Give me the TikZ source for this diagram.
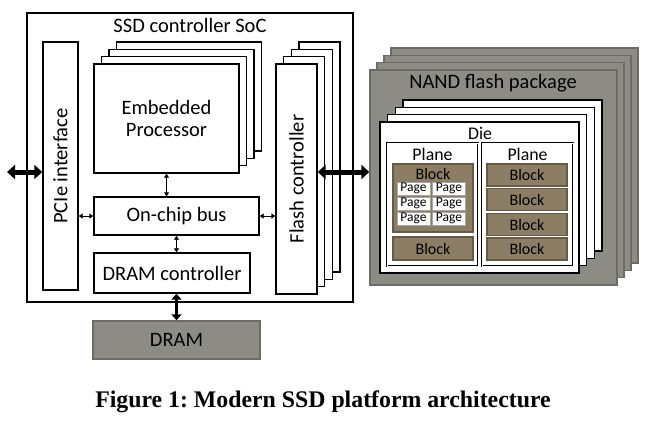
\documentclass[tikz,border=0pt]{standalone}
\usepackage{fontspec}
\setmainfont{Carlito}
\newfontfamily\captionfont{Liberation Serif}
\usetikzlibrary{arrows.meta}
\frenchspacing

\definecolor{pkggray}{RGB}{140,140,132}
\definecolor{pkgedge}{RGB}{108,108,102}
\definecolor{blockfill}{RGB}{140,126,100}
\definecolor{blockedge}{RGB}{100,90,70}
\definecolor{pageedge}{RGB}{165,165,165}

\tikzset{
  unit/.style={draw, line width=1.4pt, fill=white, inner sep=0pt},
  pkgbox/.style={draw=pkgedge, line width=1.4pt, fill=pkggray, inner sep=0pt},
  planebox/.style={draw, double, double distance=1pt, line width=0.9pt, fill=white, inner sep=0pt},
  blockbox/.style={draw=blockedge, line width=1.2pt, fill=blockfill, inner sep=0pt,
    font=\fontsize{16}{16}\selectfont, text=black},
  pagebox/.style={draw=pageedge, line width=0.8pt, fill=white, inner sep=0pt,
    minimum width=33pt, minimum height=13pt, font=\fontsize{13.5}{13.5}\selectfont},
  biglink/.style={line width=5pt, {Triangle[width=14pt,length=8pt]}-{Triangle[width=14pt,length=8pt]}},
  memlink/.style={line width=3pt, {Triangle[width=10pt,length=6pt]}-{Triangle[width=10pt,length=6pt]}},
  buslink/.style={line width=0.9pt, {Triangle[width=5pt,length=4pt]}-{Triangle[width=5pt,length=4pt]}}
}

\begin{document}
\begin{tikzpicture}[x=1pt, y=-1pt, font=\fontsize{20.5}{22}\selectfont]

  \useasboundingbox (0,0) rectangle (666,421);

  % SoC
  \node[unit, minimum width=326pt, minimum height=289pt] (soc) at (190,157.5) {};
  \node (soctitle) at (190,25) {SSD controller SoC};

  \node[unit, minimum width=35pt, minimum height=248pt] (pcie) at (60.5,166)
    {\rotatebox{90}{PCIe interface}};

  % Processoren (gestapelt)
  \foreach \k in {3,2,1}
    \draw[unit, shift={(\k*7.5,-\k*7.3)}] (94,64) rectangle (239,173);
  \node[unit, minimum width=145pt, minimum height=109pt, align=center] (proc) at (166.5,118.5)
    {Embedded\\Processor};

  \node[unit, minimum width=165pt, minimum height=38pt] (bus) at (176.5,216) {On-chip bus};
  \node[unit, minimum width=156pt, minimum height=40pt] (dramctl) at (172,273) {DRAM controller};

  % Flash-Controller (gestapelt)
  \foreach \k in {3,2,1}
    \draw[unit, shift={(\k*7.7,-\k*7.3)}] (276,64) rectangle (317,294);
  \node[unit, minimum width=41pt, minimum height=230pt] (flash) at (296.5,179)
    {\rotatebox{90}{Flash controller}};

  % DRAM
  \node[pkgbox, minimum width=167pt, minimum height=38pt] (dram) at (176.5,340) {DRAM};

  % NAND-Packages
  \foreach \k in {3,2,1}
    \draw[pkgbox, shift={(\k*7,-\k*7.3)}] (370,70) rectangle (617,285);
  \node[pkgbox, minimum width=247pt, minimum height=215pt] (pkg) at (493.5,177.5) {};
  \node (pkgtitle) at (493,83) {NAND flash package};

  % Dies
  \foreach \k in {3,2,1}
    \draw[unit, shift={(\k*7.7,-\k*7.3)}] (380,122) rectangle (579,273);
  \node[unit, minimum width=199pt, minimum height=151pt] (die) at (479.5,197.5) {};
  \node[font=\fontsize{17.8}{18}\selectfont] (dietitle) at (480,133) {Die};

  % Planes
  \node[planebox, minimum width=91pt, minimum height=123pt] (planeA) at (432.5,204.5) {};
  \node[planebox, minimum width=91pt, minimum height=123pt] (planeB) at (527.5,204.5) {};
  \node[font=\fontsize{17.8}{18}\selectfont] (planeAtitle) at (432.5,154) {Plane};
  \node[font=\fontsize{17.8}{18}\selectfont] (planeBtitle) at (527.5,154) {Plane};

  % Blocks und Pages
  \node[blockbox, minimum width=80pt, minimum height=68pt] (blkA1) at (433,198) {};
  \node[inner sep=0pt, font=\fontsize{16}{16}\selectfont] (blkA1title) at (433,174) {Block};
  \foreach \r/\y in {1/188.5, 2/203.5, 3/218.5} {
    \node[pagebox] (pgL\r) at (413.5,\y) {Page};
    \node[pagebox] (pgR\r) at (449,\y) {Page};
  }
  \node[blockbox, minimum width=80pt, minimum height=23pt] (blkA2) at (433,248.5) {Block};

  \foreach \n/\y in {1/175, 2/199.5, 3/224.5, 4/249}
    \node[blockbox, minimum width=80pt, minimum height=22pt] (blkB\n) at (527,\y) {Block};

  % Verbindungen
  \coordinate (host) at (7,172);
  \draw[biglink] (host) -- (host -| pcie.west);
  \draw[biglink] (host -| flash.east) -- (host -| pkg.west);
  \draw[memlink] (dramctl.south -| dram.north) -- (dram.north);
  \draw[buslink] (proc.south) -- (proc.south |- bus.north);
  \draw[buslink] (bus.south) -- (bus.south |- dramctl.north);
  \draw[buslink] (pcie.east |- bus.west) -- (bus.west);
  \draw[buslink] (bus.east) -- (bus.east -| flash.west);

  % Bildunterschrift
  \node[font=\captionfont\bfseries\fontsize{23.8}{24}\selectfont] (caption) at (323,402)
    {Figure 1: Modern SSD platform architecture};

\end{tikzpicture}
\end{document}
